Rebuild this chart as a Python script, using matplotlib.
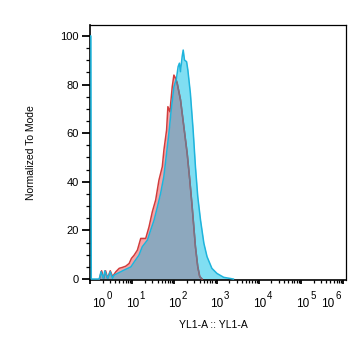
import numpy as np
import matplotlib
matplotlib.use('Agg')
import matplotlib.pyplot as plt
from matplotlib import transforms
from matplotlib.ticker import FixedLocator, LogLocator, MultipleLocator, NullFormatter

plt.rcParams['font.family'] = 'Liberation Sans'

# YL1-A positions (log10 of intensity) and normalized-to-mode values
blue_log = [0.0, 0.02, 0.03, 0.22, 0.26, 0.32, 0.35, 0.42, 0.48, 0.535, 0.57, 0.65,
            0.81, 0.97, 1.05, 1.16, 1.24, 1.36, 1.44, 1.52, 1.60, 1.675, 1.75, 1.815,
            1.87, 1.925, 1.99, 2.05, 2.09, 2.12, 2.145, 2.185, 2.21, 2.24, 2.29, 2.32,
            2.38, 2.445, 2.50, 2.555, 2.62, 2.70, 2.775, 2.89, 3.01, 3.17, 3.40]
blue_pct = [100, 100, 0, 0, 3.0, 0.3, 3.4, 0.3, 3.0, 0.3, 1.6, 2.3,
            3.7, 5.0, 7.1, 9.8, 13.3, 16.0, 20.2, 24.3, 29.8, 35.3, 42.1, 51.7,
            59.9, 69.5, 79.1, 82.6, 87.4, 88.8, 85.3, 91.5, 94.2, 90.1, 89.4, 86.0,
            76.4, 61.3, 46.2, 33.9, 24.3, 14.7, 9.2, 4.4, 2.3, 0.7, 0]

red_log = [0.22, 0.275, 0.323, 0.37, 0.417, 0.48, 0.535, 0.613, 0.692, 0.771, 0.849,
           0.928, 0.983, 1.046, 1.124, 1.203, 1.321, 1.40, 1.478, 1.557, 1.635, 1.714,
           1.753, 1.816, 1.847, 1.895, 1.95, 1.989, 2.028, 2.068, 2.146, 2.225, 2.304,
           2.366, 2.422, 2.50, 2.555, 2.602, 2.657]
red_pct = [0, 3.4, 0.3, 3.4, 0.3, 3.4, 1.0, 3.0, 4.4, 4.8, 5.3,
           6.4, 8.5, 9.8, 11.9, 16.7, 16.7, 21.5, 27.7, 32.5, 40.7, 46.2,
           53.1, 61.3, 70.9, 68.8, 79.1, 83.9, 82.6, 80.5, 73.7, 62.7, 51.7,
           40.7, 29.8, 13.3, 5.1, 1.0, 0]

decades = [0, 1, 2, 3, 4, 5, 6]

fig = plt.figure(figsize=(3.58, 3.45), dpi=100)
ax = fig.add_axes([0.2514, 0.1884, 0.7151, 0.7391])

blue_x = 10.0 ** np.array(blue_log)
red_x = 10.0 ** np.array(red_log)

red_fill = ax.fill_between(red_x, red_pct, 0, color='#f4a3a6', lw=0, zorder=1)
cyan_fill = ax.fill_between(blue_x, blue_pct, 0, color='#80def2', lw=0, zorder=2)
# overlap region drawn in its own colour
over = ax.fill_between(blue_x, blue_pct, 0, color='#8da8be', lw=0, zorder=3)
over.set_clip_path(red_fill.get_paths()[0], ax.transData)

ax.plot(red_x, red_pct, color='#d23c3c', lw=1.1, zorder=4)
grey_line, = ax.plot(red_x, red_pct, color='#6e788c', lw=1.1, zorder=4.5)
grey_line.set_clip_path(cyan_fill.get_paths()[0], ax.transData)
ax.plot(blue_x, blue_pct, color='#1eb4dc', lw=1.1, zorder=5)

ax.set_xscale('log')
ax.set_xlim(1, 10 ** 6.07)
ax.set_ylim(-0.4, 104.5)

ax.xaxis.set_major_locator(FixedLocator([10.0 ** d for d in decades]))
ax.xaxis.set_minor_locator(LogLocator(base=10, subs=np.arange(2, 10), numticks=20))
ax.xaxis.set_major_formatter(NullFormatter())
ax.xaxis.set_minor_formatter(NullFormatter())
ax.yaxis.set_major_locator(MultipleLocator(20))
ax.yaxis.set_minor_locator(MultipleLocator(5))

ax.tick_params(axis='x', which='major', direction='out', length=3.2, width=1.3)
ax.tick_params(axis='x', which='minor', direction='out', length=2.0, width=0.9)
ax.tick_params(axis='y', which='major', direction='out', length=5.5, width=1.3,
               pad=2.5, labelsize=8)
ax.tick_params(axis='y', which='minor', direction='out', length=3.0, width=0.9)

for s in ['left', 'bottom']:
    ax.spines[s].set_linewidth(1.2)
for s in ['top', 'right']:
    ax.spines[s].set_linewidth(0.9)

# decade labels "10" + raised exponent; end labels pulled inward
label_shift = [13, 4, 4, 4, 5, 6, -11]
base_tr = transforms.blended_transform_factory(ax.transData, ax.transAxes)
for d, dx in zip(decades, label_shift):
    tr10 = base_tr + transforms.ScaledTranslation((dx - 4) / 100, -27 / 100,
                                                  fig.dpi_scale_trans)
    ax.text(10.0 ** d, 0, '10', transform=tr10, ha='center', va='baseline',
            fontsize=8.5, clip_on=False)
    trexp = base_tr + transforms.ScaledTranslation((dx + 3.5) / 100, -19 / 100,
                                                   fig.dpi_scale_trans)
    ax.text(10.0 ** d, 0, str(d), transform=trexp, ha='left', va='baseline',
            fontsize=7, clip_on=False)

fig.text(31 / 358, 1 - 153 / 345, 'Normalized To Mode', rotation=90,
         ha='center', va='center', fontsize=7.5)
fig.text(213.5 / 358, 1 - 325 / 345, 'YL1-A :: YL1-A', ha='center', va='center',
         fontsize=7.5)

fig.savefig('out.png', dpi=100)
